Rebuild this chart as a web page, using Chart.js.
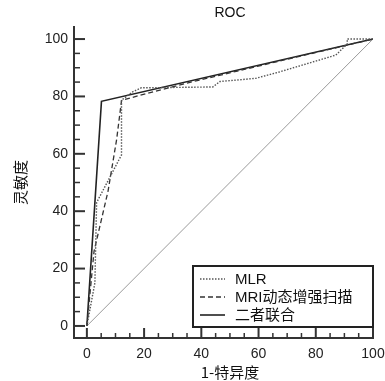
<!DOCTYPE html>
<html>
<head>
<meta charset="utf-8">
<script src="https://cdn.jsdelivr.net/npm/chart.js@4/dist/chart.umd.min.js"></script>
<style>
  html, body { margin: 0; padding: 0; background: #fff; }
  canvas { display: block; }
</style>
</head>
<body>
<canvas id="c" width="385" height="381"></canvas>
<script>
// ---- data ----
const seriesLabels = ["MLR", "MRI动态增强扫描", "二者联合"];
const mlrX = [0, 2.8, 3.4, 12.1, 12.1, 16, 19, 44, 46.5, 59, 67.5, 87, 91, 91, 100];
const mlrY = [0, 15, 43, 59.6, 78.7, 81.6, 83, 83.3, 85.2, 86.3, 88.6, 94.4, 98.3, 100, 100];
const mriX = [0, 2.5, 7.4, 10.4, 12.1, 13.3, 36, 71, 100];
const mriY = [0, 26, 47, 65, 78.5, 79, 84.9, 93.2, 100];
const combX = [0, 5.1, 100];
const combY = [0, 78.3, 100];
const refX = [0, 100];
const refY = [0, 100];
const tickValues = [0,5,10,15,20,25,30,35,40,45,50,55,60,65,70,75,80,85,90,95,100];
const chartTitle = "ROC";
const xTitle = "1-特异度";
const yTitle = "灵敏度";

function pts(xs, ys) { return xs.map((x, i) => ({ x: x, y: ys[i] })); }

const styles = [
  { color: '#555', width: 1.4, dash: [1.5, 1.5] },
  { color: '#333', width: 1.3, dash: [5, 3] },
  { color: '#222', width: 1.6, dash: [] }
];

const overlay = {
  id: 'overlay',
  afterDraw(chart) {
    const ctx = chart.ctx;
    const xs = chart.scales.x, ys = chart.scales.y;
    const ca = chart.chartArea;
    ctx.save();
    ctx.strokeStyle = '#333';
    tickValues.forEach(v => {
      const px = xs.getPixelForValue(v);
      const major = v % 20 === 0;
      ctx.lineWidth = major ? 2 : 1.5;
      ctx.beginPath();
      ctx.moveTo(px, ca.bottom);
      ctx.lineTo(px, ca.bottom - (major ? 10 : 5));
      ctx.stroke();
    });
    tickValues.forEach(v => {
      const py = ys.getPixelForValue(v);
      const major = v % 20 === 0;
      ctx.lineWidth = major ? 2 : 1.5;
      ctx.beginPath();
      ctx.moveTo(ca.left, py);
      ctx.lineTo(ca.left + (major ? 11 : 6), py);
      ctx.stroke();
    });
    ctx.fillStyle = '#111';
    ctx.textAlign = 'center';
    ctx.textBaseline = 'middle';
    ctx.font = '14px "Liberation Sans", Arial, sans-serif';
    ctx.fillText(chartTitle, xs.getPixelForValue(50), 13);
    ctx.font = '15px "Noto Sans CJK SC", "Liberation Sans", sans-serif';
    ctx.fillText(xTitle, xs.getPixelForValue(50), 372);
    ctx.save();
    ctx.translate(20, (ca.top + ca.bottom) / 2);
    ctx.rotate(-Math.PI / 2);
    ctx.fillText(yTitle, 0, 0);
    ctx.restore();
    const lx = 193, ly = 266, lw = 180, lh = 61;
    ctx.fillStyle = '#fff';
    ctx.fillRect(lx, ly, lw, lh);
    ctx.strokeStyle = '#222';
    ctx.lineWidth = 2;
    ctx.setLineDash([]);
    ctx.strokeRect(lx, ly, lw, lh);
    const rows = [279, 297, 315];
    chart.data.datasets.slice(0, 3).forEach((ds, i) => {
      ctx.strokeStyle = ds.borderColor;
      ctx.lineWidth = ds.borderWidth;
      ctx.setLineDash(ds.borderDash || []);
      ctx.beginPath();
      ctx.moveTo(200, rows[i]);
      ctx.lineTo(225, rows[i]);
      ctx.stroke();
      ctx.setLineDash([]);
      ctx.fillStyle = '#111';
      ctx.textAlign = 'left';
      ctx.font = '15px "Liberation Sans", "Noto Sans CJK SC", sans-serif';
      ctx.fillText(ds.label, 235, rows[i] + 1);
    });
    ctx.restore();
  }
};

const datasets = [
  { label: seriesLabels[0], data: pts(mlrX, mlrY) },
  { label: seriesLabels[1], data: pts(mriX, mriY) },
  { label: seriesLabels[2], data: pts(combX, combY) }
].map((d, i) => Object.assign(d, {
  borderColor: styles[i].color,
  borderWidth: styles[i].width,
  borderDash: styles[i].dash,
  pointRadius: 0,
  tension: 0,
  fill: false
}));
datasets.push({ label: 'ref', data: pts(refX, refY), borderColor: '#9a9a9a', borderWidth: 1, pointRadius: 0, fill: false });

function buildTicks(scale) { scale.ticks = tickValues.map(v => ({ value: v })); }
const tickFont = { family: '"Liberation Sans", Arial, sans-serif', size: 14 };

new Chart(document.getElementById('c'), {
  type: 'line',
  data: { datasets: datasets },
  plugins: [overlay],
  options: {
    responsive: false,
    animation: false,
    layout: { padding: { top: 27, right: 12, left: 0, bottom: 0 } },
    plugins: { legend: { display: false }, title: { display: false }, tooltip: { enabled: false } },
    scales: {
      x: {
        type: 'linear', min: -4.5, max: 100,
        afterBuildTicks: buildTicks,
        afterFit: s => { s.height = 43; s.paddingLeft = 0; s.paddingRight = 0; },
        grid: { display: false, drawTicks: false },
        border: { display: true, color: '#333', width: 2 },
        ticks: { autoSkip: false, maxRotation: 0, padding: 8, color: '#222', font: tickFont,
                 callback: v => (v % 20 === 0 ? String(v) : '') }
      },
      y: {
        type: 'linear', min: -4.2, max: 104.2,
        afterBuildTicks: buildTicks,
        afterFit: s => { s.width = 74; s.paddingTop = 0; s.paddingBottom = 0; },
        grid: { display: false, drawTicks: false },
        border: { display: true, color: '#333', width: 2 },
        ticks: { autoSkip: false, padding: 6, color: '#222', font: tickFont,
                 callback: v => (v % 20 === 0 ? String(v) : '') }
      }
    }
  }
});
</script>
</body>
</html>
